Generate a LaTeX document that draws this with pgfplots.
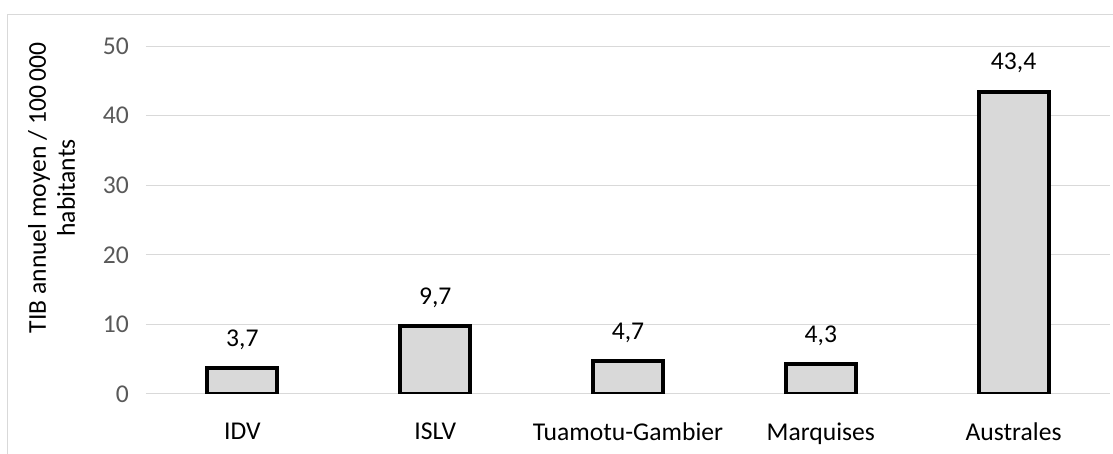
\documentclass[border=0pt]{standalone}
\usepackage{pgfplots}
\pgfplotsset{compat=1.18}
\usepackage{fontspec}
\setmainfont{Carlito}
\definecolor{barfill}{HTML}{D9D9D9}
\definecolor{gridc}{HTML}{D9D9D9}
\definecolor{tickc}{HTML}{595959}
\begin{document}
\begin{tikzpicture}
\useasboundingbox (-73pt,-30pt) rectangle (483.5pt,197pt);
\begin{axis}[
 scale only axis,
 width=482pt, height=174pt,
 ybar, bar width=35pt,
 xmin=-0.5, xmax=4.5,
 ymin=0, ymax=50,
 ytick={0,10,20,30,40,50},
 xtick=data,
 xticklabels={IDV,ISLV,Tuamotu-Gambier,Marquises,Australes},
 axis line style={draw=none},
 major tick length=0pt,
 ymajorgrids,
 grid style={gridc, line width=0.5pt},
 font=\fontsize{12.8}{14.5}\selectfont,
 /pgf/number format/assume math mode=true,
 /pgf/number format/use comma,
 yticklabel style={tickc, xshift=-5pt},
 xticklabel style={black, yshift=-11pt},
 ylabel={TIB annuel moyen / 100\,000\\habitants},
 ylabel style={align=center, anchor=center, rotate=0,
   at={(rel axis cs:-0.098,0.592)}},
 nodes near coords,
 nodes near coords style={black, yshift=5pt,
   /pgf/number format/.cd, fixed, fixed zerofill, precision=1, use comma},
]
\addplot[draw=black, line width=2pt, fill=barfill] coordinates {
 (0,3.7) (1,9.7) (2,4.7) (3,4.3) (4,43.4)};
\end{axis}
\begin{scope}
\clip (-73pt,-30pt) rectangle (483.5pt,197pt);
\draw[gridc, line width=0.5pt] (-69pt,-40pt) rectangle (485pt,189.5pt);
\end{scope}
\end{tikzpicture}
\end{document}
